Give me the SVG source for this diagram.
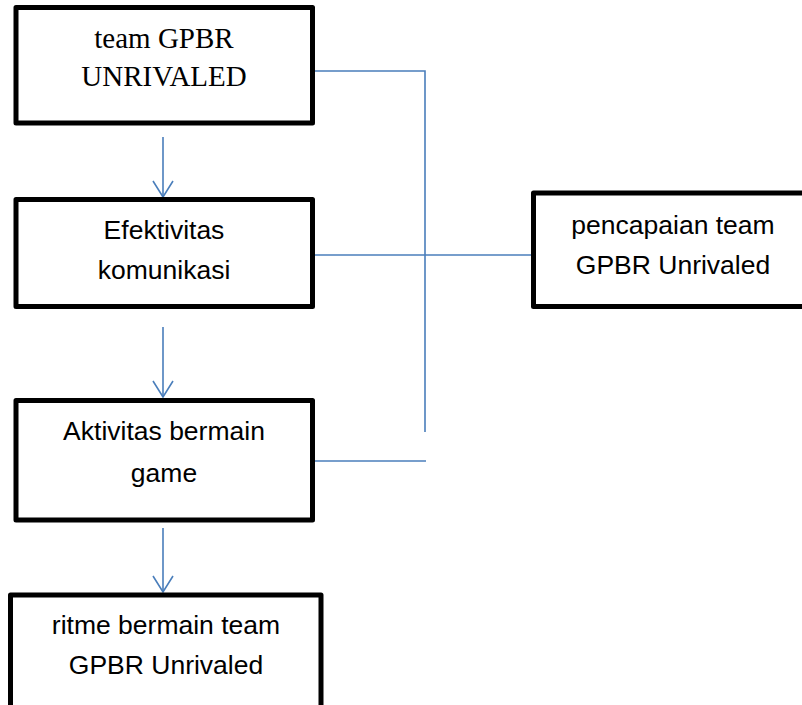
<svg xmlns="http://www.w3.org/2000/svg" width="802" height="705" viewBox="0 0 802 705">
<style>
.box{fill:#fff;stroke:#000;stroke-width:5;stroke-linejoin:round}
.ln{fill:none;stroke:#4a7ebb;stroke-width:1.6}
.serif{font-family:"Liberation Serif",serif;font-size:29px;fill:#000;text-anchor:middle}
.sans{font-family:"Liberation Sans",Arial,sans-serif;font-size:26.5px;fill:#000;text-anchor:middle}
</style>
<defs>
<marker id="arr" markerWidth="20" markerHeight="24" refX="17" refY="11" orient="auto" markerUnits="userSpaceOnUse" viewBox="0 0 20 24">
<path d="M1,1 L17,11 L1,21" fill="none" stroke="#4a7ebb" stroke-width="1.6"/>
</marker>
</defs>
<g id="connectors">
<line class="ln" x1="163" y1="137" x2="163" y2="197" marker-end="url(#arr)"/>
<line class="ln" x1="163" y1="327" x2="163" y2="397" marker-end="url(#arr)"/>
<line class="ln" x1="163" y1="528" x2="163" y2="592" marker-end="url(#arr)"/>
<polyline class="ln" points="315,71 425,71 425,432"/>
<line class="ln" x1="315" y1="255" x2="531" y2="255"/>
<line class="ln" x1="315" y1="461" x2="426" y2="461"/>
</g>
<g id="n1">
<rect class="box" x="16" y="7.5" width="296.5" height="115.5"/>
<text class="serif" x="164" y="48">team GPBR</text>
<text class="serif" x="164" y="86">UNRIVALED</text>
</g>
<g id="n2">
<rect class="box" x="16" y="199.5" width="296.5" height="107"/>
<text class="sans" x="164" y="239">Efektivitas</text>
<text class="sans" x="164" y="279">komunikasi</text>
</g>
<g id="n3">
<rect class="box" x="16" y="400.5" width="296.5" height="119.5"/>
<text class="sans" x="164" y="440">Aktivitas bermain</text>
<text class="sans" x="164" y="482">game</text>
</g>
<g id="n4">
<rect class="box" x="533.5" y="193" width="300" height="113.5"/>
<text class="sans" x="673" y="234">pencapaian team</text>
<text class="sans" x="673" y="274">GPBR Unrivaled</text>
</g>
<g id="n5">
<rect class="box" x="10.5" y="595" width="310.5" height="140"/>
<text class="sans" x="166" y="634">ritme bermain team</text>
<text class="sans" x="166" y="674">GPBR Unrivaled</text>
</g>
</svg>
